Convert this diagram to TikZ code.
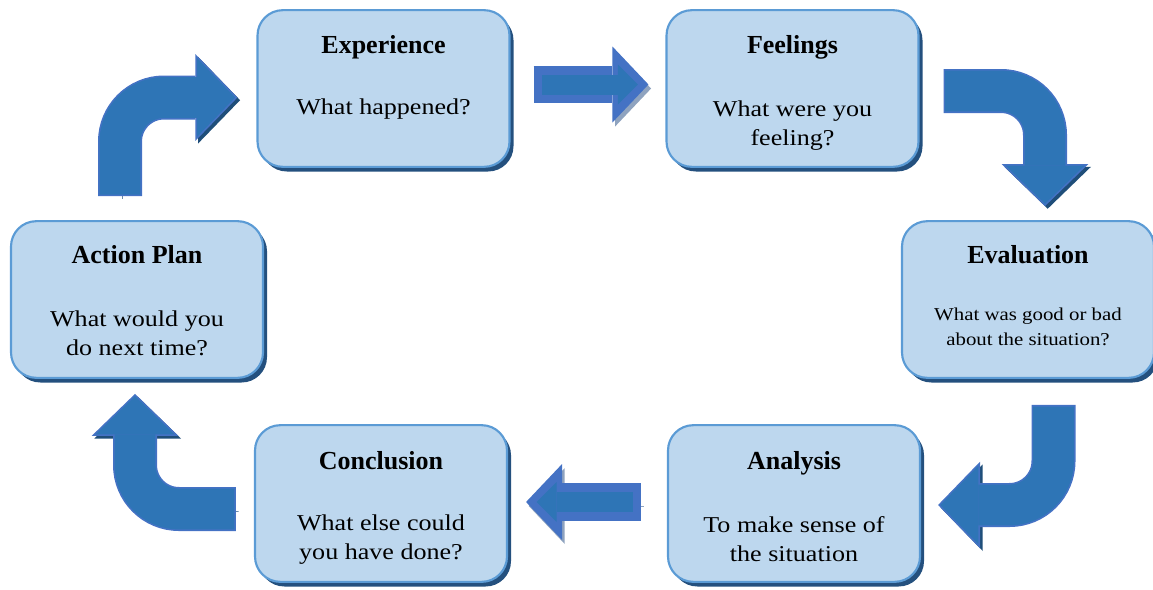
\documentclass[tikz,border=0pt]{standalone}
\usepackage{fontspec}
\setmainfont{Liberation Serif}
\newfontfamily\widefont[FakeStretch=1.15]{Liberation Serif}
\usepackage{tikz}
\usetikzlibrary{arrows.meta,calc,positioning,shadows}
\definecolor{CardFill}{HTML}{BDD7EE}
\definecolor{CardLine}{HTML}{5B9BD5}
\definecolor{CardShade}{HTML}{24507E}
\definecolor{FlowFill}{HTML}{2E75B6}
\definecolor{FlowLine}{HTML}{4472C4}
\definecolor{FlowShade}{HTML}{8FA3BF}
\definecolor{BendShade}{HTML}{1F4E79}

\begin{document}
\begin{tikzpicture}[x=0.75pt, y=-0.75pt,
  card/.style={rectangle, rounded corners=19pt, draw=CardLine, line width=1.6pt,
    fill=CardFill, minimum width=189pt, minimum height=117.5pt,
    drop shadow={shadow xshift=3pt, shadow yshift=-3.5pt, fill=CardShade, opacity=1}},
  cardtitle/.style={font=\fontsize{19.5}{23}\selectfont\bfseries, anchor=base, inner sep=0pt},
  cardtext/.style={font=\widefont\fontsize{17}{21.75}\selectfont, align=center, anchor=base, inner sep=0pt},
  cardsmall/.style={cardtext, font=\widefont\fontsize{13.6}{18.5}\selectfont},
  flow/.style={draw=FlowLine, line width=28pt,
    -{Triangle[length=27pt,width=57pt,line width=0pt]},
    preaction={draw=FlowShade, transform canvas={shift={(2pt,-3pt)}}},
    postaction={draw=FlowFill, line width=15pt, shorten <=6pt, shorten >=8pt,
      -{Triangle[length=15pt,width=30pt,line width=0pt]}}},
  bendflow/.style={draw=FlowLine, line width=33pt, rounded corners=33pt,
    -{Triangle[length=31.5pt,width=65pt,line width=0pt]},
    preaction={draw=BendShade, transform canvas={shift={(2pt,-2pt)}}},
    postaction={draw=FlowFill, line width=30.6pt, shorten <=1.2pt, shorten >=1.7pt,
      -{Triangle[length=28.6pt,width=59pt,line width=0pt]}}}]
  \useasboundingbox (0,0) rectangle (1153,589);

  % Cards
  \node[card] (exp) at (383.5,88.5) {};
  \node[card] (fel) at (792.5,88.5) {};
  \node[card] (eva) at (1028,299.5) {};
  \node[card] (ana) at (794,503.5) {};
  \node[card] (con) at (381,503.5) {};
  \node[card] (act) at (137,299.5) {};

  % Titles
  \node[cardtitle] (exp-t) at ($(exp.north)+(0,44)$) {Experience};
  \node[cardtitle] (fel-t) at ($(fel.north)+(0,44)$) {Feelings};
  \node[cardtitle] (eva-t) at ($(eva.north)+(0,43)$) {Evaluation};
  \node[cardtitle] (ana-t) at ($(ana.north)+(0,45)$) {Analysis};
  \node[cardtitle] (con-t) at ($(con.north)+(0,45)$) {Conclusion};
  \node[cardtitle] (act-t) at ($(act.north)+(0,43)$) {Action Plan};

  % Questions (base = last line)
  \node[cardtext] (exp-q) at ($(exp.north)+(0,105)$) {What happened?};
  \node[cardtext] (fel-q) at ($(fel.north)+(0,136)$) {What were you\\feeling?};
  \node[cardsmall] (eva-q) at ($(eva.north)+(0,125)$) {What was good or bad\\about the situation?};
  \node[cardtext] (ana-q) at ($(ana.north)+(0,137)$) {To make sense of\\the situation};
  \node[cardtext] (con-q) at ($(con.north)+(0,135)$) {What else could\\you have done?};
  \node[cardtext] (act-q) at ($(act.north)+(0,135)$) {What would you\\do next time?};

  % Arrows
  \draw[flow] ($(exp.east)+(23,-4)$) -- ($(fel.west)+(-17,-4)$);
  \draw[bendflow] ($(fel.east)+(24,2.5)$) -| ($(eva.north)+(17,-14)$);
  \draw[bendflow] ($(eva.south)+(25.5,26)$) |- ($(ana.east)+(17,1.5)$);
  \draw[flow] ($(ana.west)+(-26,-1.5)$) -- ($(con.east)+(18,-1.5)$);
  \draw[bendflow] ($(con.west)+(-18,5.5)$) -| ($(act.south)+(-2,15)$);
  \draw[bendflow] ($(act.north)+(-17,-24)$) |- ($(exp.west)+(-19,9)$);
\end{tikzpicture}
\end{document}
